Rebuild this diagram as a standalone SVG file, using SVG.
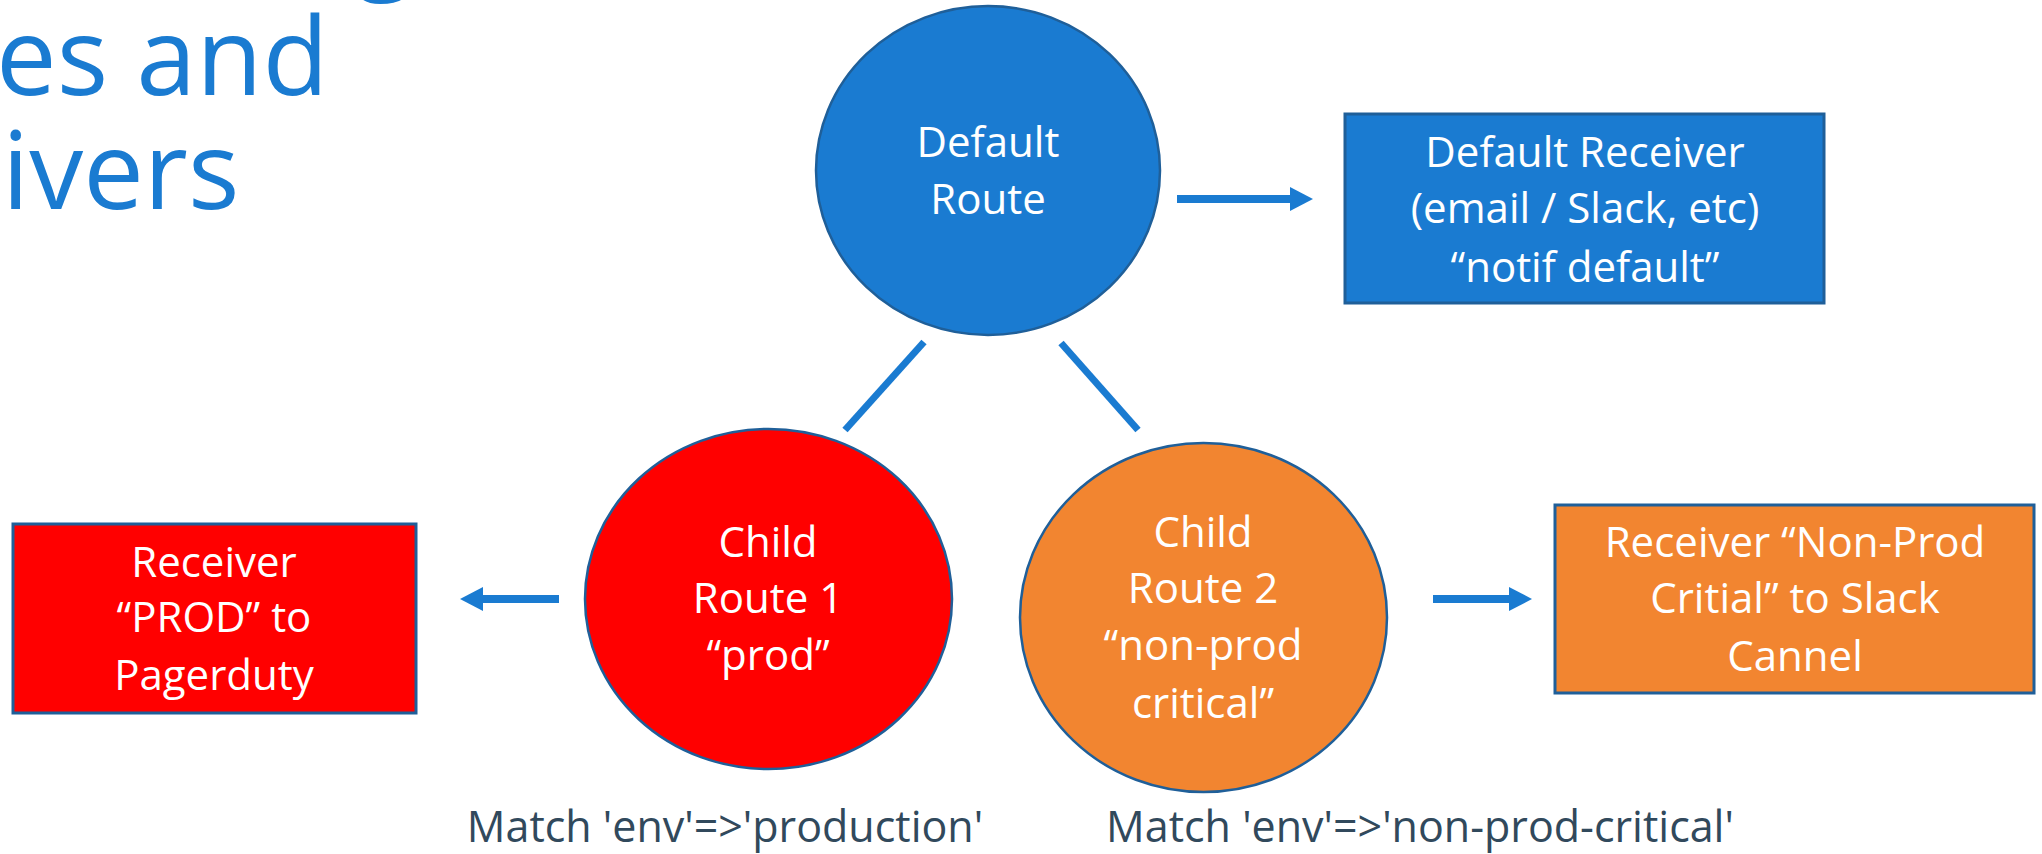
<svg xmlns="http://www.w3.org/2000/svg" width="2042" height="854" viewBox="0 0 2042 854">
  <style>
    .title { font-family: "Open Sans", "Liberation Sans", sans-serif; font-size: 108px; fill: #1a7bd1; }
    .label { font-family: "Open Sans", "Liberation Sans", sans-serif; font-size: 42px; fill: #ffffff; text-anchor: middle; }
    .match { font-family: "Open Sans", "Liberation Sans", sans-serif; font-size: 43px; fill: #31495c; text-anchor: middle; }
    .edge { stroke: #1a7bd1; stroke-width: 7; fill: none; }
    .arrow { stroke: #1a7bd1; stroke-width: 8; fill: none; marker-end: url(#head); }
    .route { stroke: #1f5f99; stroke-width: 2.5; }
    .recv { stroke: #1f5f99; stroke-width: 3; }
  </style>
  <defs>
    <marker id="head" markerUnits="userSpaceOnUse" markerWidth="24" markerHeight="24" viewBox="0 0 24 24" refX="1" refY="12" orient="auto">
      <path d="M0,0 L23,12 L0,24 Z" fill="#1a7bd1"/>
    </marker>
  </defs>

  <rect width="2042" height="854" fill="#ffffff"/>

  <!-- slide heading, cut off at the top-left -->
  <g id="heading">
    <text class="title" x="355" y="-22">g</text>
    <text class="title" x="-4" y="95">es and</text>
    <text class="title" x="2" y="209">ivers</text>
  </g>

  <!-- connectors -->
  <g id="connectors">
    <line class="edge" x1="924" y1="342" x2="845" y2="430"/>
    <line class="edge" x1="1061" y1="343" x2="1138" y2="430"/>
    <line class="arrow" x1="1177" y1="199" x2="1291" y2="199"/>
    <line class="arrow" x1="559" y1="599" x2="482" y2="599"/>
    <line class="arrow" x1="1433" y1="599" x2="1510" y2="599"/>
  </g>

  <g id="default-route">
    <ellipse class="route" cx="988" cy="170.5" rx="172" ry="164.5" fill="#1a7bd1"/>
    <text class="label" x="988" y="157">Default</text>
    <text class="label" x="988" y="214">Route</text>
  </g>

  <g id="default-receiver">
    <rect class="recv" x="1345" y="114" width="479" height="189" fill="#1a7bd1"/>
    <text class="label" x="1585" y="167">Default Receiver</text>
    <text class="label" x="1585" y="223">(email / Slack, etc)</text>
    <text class="label" x="1585" y="282">“notif default”</text>
  </g>

  <g id="child-route-1">
    <ellipse class="route" cx="768.5" cy="599" rx="183.5" ry="170" fill="#ff0000"/>
    <text class="label" x="768" y="557">Child</text>
    <text class="label" x="768" y="613">Route 1</text>
    <text class="label" x="768" y="670">“prod”</text>
  </g>

  <g id="receiver-prod">
    <rect class="recv" x="13" y="524" width="403" height="189" fill="#ff0000"/>
    <text class="label" x="214" y="577">Receiver</text>
    <text class="label" x="214" y="632">“PROD” to</text>
    <text class="label" x="214" y="690">Pagerduty</text>
  </g>

  <g id="child-route-2">
    <ellipse class="route" cx="1203.5" cy="617.5" rx="183.5" ry="174.5" fill="#f28530"/>
    <text class="label" x="1203" y="547">Child</text>
    <text class="label" x="1203" y="603">Route 2</text>
    <text class="label" x="1203" y="660">“non-prod</text>
    <text class="label" x="1203" y="718">critical”</text>
  </g>

  <g id="receiver-non-prod">
    <rect class="recv" x="1555" y="505" width="479" height="188" fill="#f28530"/>
    <text class="label" x="1795" y="557">Receiver “Non-Prod</text>
    <text class="label" x="1795" y="613">Critial” to Slack</text>
    <text class="label" x="1795" y="671">Cannel</text>
  </g>

  <g id="match-labels">
    <text class="match" x="725" y="842">Match 'env'=&gt;'production'</text>
    <text class="match" x="1420" y="842">Match 'env'=&gt;'non-prod-critical'</text>
  </g>
</svg>
